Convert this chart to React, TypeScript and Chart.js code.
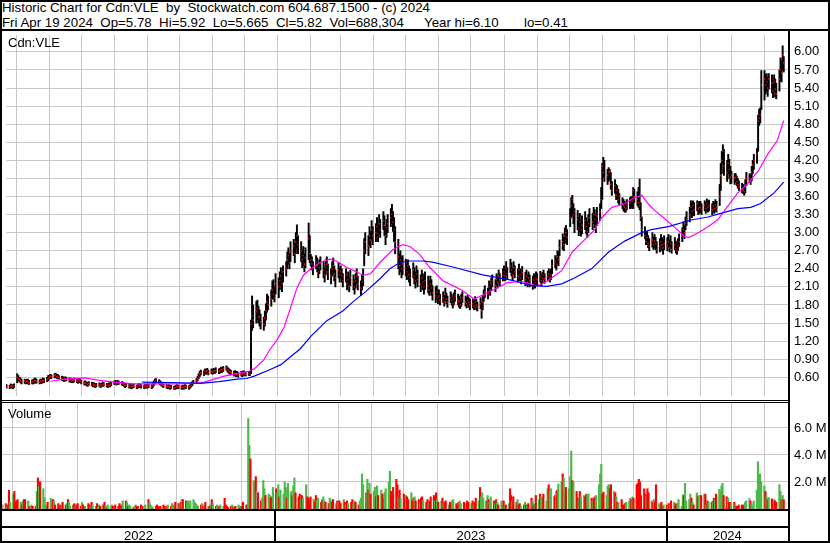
import React, { useEffect, useRef } from 'react';
import { Chart, registerables } from 'chart.js';

Chart.register(...registerables);

const FONT = '"Liberation Sans", Arial, Helvetica, sans-serif';
const GRID = '#c8c8c8';
const GREEN = '#4cb848';
const RED = '#ff0000';
const GRAY = '#a0a0a0';

const DAY = 86400000;
const EPOCH = Date.UTC(2023, 0, 1);
const dayOf = (s: string) => {
  const [y, m, d] = s.split('-').map(Number);
  return (Date.UTC(y, m - 1, d) - EPOCH) / DAY;
};

const title1 = 'Historic Chart for Cdn:VLE  by  Stockwatch.com 604.687.1500 - (c) 2024';
const title2 = 'Fri Apr 19 2024  Op=5.78  Hi=5.92  Lo=5.665  Cl=5.82  Vol=688,304';
const title2b = 'Year hi=6.10';
const title2c = 'lo=0.41';
const symbolLabel = 'Cdn:VLE';
const volumeLabel = 'Volume';

const FIRST_DAY = '2022-04-22';
const X_MIN = -254.5;
const X_MAX = 478;

// daily highs (one per weekday from 2022-04-22 to 2024-04-19), one line per month
const highs = [
  0.48,0.47,0.49,0.48,0.47,0.49,
  0.66,0.63,0.60,0.59,0.57,0.57,0.56,0.57,0.57,0.55,0.56,0.56,0.58,0.59,0.57,0.56,0.57,0.57,0.59,0.58,0.60,0.63,
  0.63,0.65,0.64,0.66,0.67,0.65,0.65,0.63,0.62,0.61,0.59,0.61,0.60,0.59,0.59,0.58,0.58,0.59,0.58,0.57,0.58,0.57,
  0.55,0.54,0.54,0.52,0.51,0.53,0.52,0.51,0.51,0.49,0.50,0.51,0.49,0.50,0.52,0.51,0.50,0.49,0.51,0.50,0.52,
  0.54,0.55,0.53,0.55,0.54,0.53,0.52,0.51,0.49,0.50,0.48,0.49,0.47,0.48,0.49,0.47,0.48,0.50,0.49,0.48,0.47,0.49,0.48,
  0.48,0.49,0.48,0.51,0.54,0.57,0.58,0.56,0.54,0.52,0.50,0.49,0.48,0.47,0.48,0.46,0.47,0.45,0.46,0.47,0.48,0.47,
  0.46,0.47,0.46,0.48,0.47,0.46,0.48,0.51,0.53,0.55,0.58,0.62,0.66,0.70,0.72,0.71,0.74,0.73,0.75,0.72,0.74,
  0.73,0.75,0.74,0.76,0.74,0.75,0.77,0.76,0.78,0.79,0.77,0.75,0.73,0.72,0.70,0.71,0.69,0.70,0.68,0.70,0.69,0.71,
  0.69,0.68,0.70,0.69,1.55,1.95,1.80,1.86,1.88,1.78,1.72,1.65,1.60,1.70,1.82,1.98,1.95,2.05,2.20,2.22,2.10,2.32,
  2.25,2.35,2.42,2.32,2.45,2.52,2.68,2.75,2.65,2.85,2.89,2.82,3.00,3.13,2.95,2.85,2.70,2.77,2.65,2.75,3.16,2.95,
  2.64,2.60,2.52,2.62,2.58,2.48,2.55,2.60,2.52,2.42,2.55,2.60,2.48,2.40,2.52,2.58,2.45,2.38,2.50,2.42,
  2.45,2.40,2.32,2.40,2.28,2.35,2.25,2.38,2.30,2.22,2.32,2.40,2.28,2.20,2.30,2.40,2.90,3.00,2.95,3.10,3.02,3.20,3.10,
  3.15,3.25,3.12,3.30,3.22,3.35,3.28,3.10,3.22,3.30,3.40,3.47,3.35,3.25,3.10,2.89,2.65,2.70,2.60,2.62,
  2.56,2.48,2.55,2.45,2.40,2.50,2.42,2.35,2.45,2.38,2.30,2.38,2.32,2.25,2.35,2.28,2.20,2.28,2.22,2.12,2.10,2.12,2.05,
  2.05,1.98,2.02,1.95,2.08,2.00,1.95,2.02,1.98,1.92,2.00,2.05,1.98,1.95,1.90,1.98,2.02,1.95,1.92,1.96,1.92,1.90,
  1.90,1.88,1.94,1.90,1.85,1.92,1.84,1.96,2.05,2.12,2.08,2.20,2.15,2.25,2.30,2.22,2.32,2.28,2.38,2.32,2.40,
  2.45,2.40,2.52,2.42,2.56,2.50,2.42,2.52,2.45,2.40,2.48,2.40,2.36,2.44,2.34,2.38,2.30,2.35,2.30,2.28,2.32,2.28,2.35,
  2.32,2.36,2.30,2.34,2.38,2.32,2.36,2.40,2.34,2.40,2.55,2.62,2.58,2.70,2.68,2.88,2.98,2.92,3.08,3.12,3.05,
  3.40,3.58,3.62,3.48,3.40,3.37,3.25,3.32,3.20,3.28,3.35,3.25,3.18,3.30,3.40,3.32,3.42,3.38,3.28,3.42,3.48,3.75,
  4.15,4.25,4.20,4.05,4.08,4.05,4.00,3.85,3.88,3.80,3.78,3.72,3.65,3.58,3.55,3.52,3.50,3.55,3.58,3.60,3.58,3.75,
  3.72,3.68,3.75,3.89,3.50,3.26,3.10,3.00,3.02,2.95,2.90,3.00,2.92,2.97,2.92,2.85,2.90,2.97,2.92,2.88,2.95,
  2.92,2.97,2.88,2.95,2.85,2.92,2.86,2.80,2.90,2.98,3.08,3.18,3.12,3.26,3.35,3.42,3.53,3.48,3.53,3.50,3.53,3.50,3.52,
  3.52,3.48,3.53,3.50,3.56,3.52,3.54,3.48,3.52,3.50,3.55,3.52,3.80,4.15,4.35,4.46,4.38,4.20,4.30,4.22,4.10,
  4.02,3.98,3.98,3.94,3.90,3.86,3.82,3.80,3.76,3.88,4.00,3.98,3.95,4.10,4.20,4.30,4.40,4.95,5.05,5.07,5.69,
  5.69,5.62,5.64,5.58,5.64,5.62,5.52,5.62,5.55,5.48,5.70,5.90,5.85,6.10,5.92,
];

const lows = [
  0.42,0.41,0.43,0.42,0.41,0.43,
  0.51,0.55,0.53,0.51,0.49,0.50,0.49,0.50,0.49,0.48,0.49,0.49,0.50,0.51,0.50,0.49,0.50,0.50,0.51,0.51,0.53,0.54,
  0.57,0.58,0.58,0.59,0.60,0.58,0.59,0.57,0.55,0.54,0.53,0.54,0.54,0.52,0.52,0.51,0.51,0.52,0.51,0.50,0.51,0.51,
  0.49,0.47,0.48,0.46,0.45,0.47,0.46,0.44,0.45,0.43,0.44,0.45,0.43,0.44,0.46,0.45,0.44,0.43,0.45,0.44,0.46,
  0.48,0.49,0.47,0.49,0.48,0.47,0.46,0.45,0.43,0.44,0.42,0.43,0.41,0.42,0.43,0.41,0.42,0.44,0.43,0.42,0.41,0.43,0.42,
  0.42,0.43,0.41,0.43,0.46,0.49,0.51,0.49,0.47,0.46,0.44,0.43,0.42,0.41,0.42,0.40,0.41,0.40,0.40,0.41,0.42,0.41,
  0.40,0.41,0.40,0.42,0.41,0.40,0.42,0.44,0.46,0.49,0.51,0.54,0.58,0.61,0.64,0.63,0.66,0.65,0.67,0.64,0.66,
  0.65,0.67,0.66,0.68,0.66,0.67,0.69,0.68,0.70,0.72,0.69,0.67,0.65,0.64,0.62,0.63,0.61,0.62,0.60,0.62,0.61,0.63,
  0.63,0.62,0.63,0.63,0.66,1.38,1.42,1.50,1.55,1.50,1.45,1.40,1.38,1.45,1.55,1.68,1.72,1.78,1.90,1.90,1.85,1.98,
  1.92,2.05,2.12,2.02,2.18,2.28,2.40,2.48,2.40,2.52,2.62,2.50,2.65,2.75,2.65,2.52,2.42,2.45,2.35,2.42,2.55,2.50,
  2.45,2.38,2.30,2.40,2.35,2.25,2.32,2.38,2.25,2.18,2.30,2.36,2.22,2.15,2.28,2.32,2.20,2.10,2.25,2.18,
  2.25,2.18,2.10,2.18,2.05,2.12,2.02,2.12,2.05,1.98,2.08,2.15,2.05,1.96,2.05,2.12,2.45,2.65,2.62,2.78,2.75,2.88,2.80,
  2.85,2.95,2.85,2.98,2.92,3.05,2.95,2.80,2.92,3.00,3.10,3.15,3.02,2.85,2.65,2.40,2.30,2.35,2.25,2.30,
  2.28,2.22,2.30,2.18,2.12,2.25,2.15,2.08,2.18,2.10,2.02,2.12,2.05,1.98,2.06,2.00,1.96,2.02,1.96,1.88,1.84,1.90,1.82,
  1.85,1.80,1.84,1.78,1.88,1.82,1.76,1.84,1.80,1.75,1.80,1.86,1.80,1.76,1.74,1.78,1.84,1.78,1.75,1.80,1.76,1.72,
  1.75,1.72,1.78,1.72,1.70,1.74,1.58,1.72,1.86,1.92,1.90,2.00,1.96,2.05,2.10,2.02,2.12,2.08,2.18,2.12,2.20,
  2.25,2.20,2.30,2.22,2.34,2.28,2.20,2.30,2.25,2.18,2.28,2.20,2.15,2.22,2.12,2.18,2.10,2.15,2.10,2.06,2.12,2.08,2.15,
  2.12,2.18,2.12,2.16,2.22,2.16,2.20,2.24,2.18,2.22,2.32,2.42,2.38,2.48,2.45,2.62,2.72,2.70,2.82,2.88,2.80,
  3.10,3.25,3.28,3.15,3.00,3.05,2.95,3.02,2.94,2.98,3.05,2.98,2.92,3.00,3.10,3.05,3.15,3.08,3.00,3.12,3.20,3.40,
  3.55,3.92,3.85,3.80,3.85,3.88,3.72,3.62,3.65,3.55,3.55,3.49,3.45,3.40,3.36,3.34,3.34,3.38,3.40,3.42,3.40,3.40,
  3.50,3.45,3.42,3.38,3.20,2.94,2.90,2.80,2.82,2.75,2.70,2.76,2.72,2.76,2.72,2.66,2.68,2.76,2.70,2.64,2.72,
  2.70,2.76,2.68,2.74,2.66,2.72,2.66,2.64,2.70,2.77,2.85,2.95,2.90,3.05,3.12,3.18,3.30,3.25,3.32,3.28,3.36,3.30,3.32,
  3.34,3.30,3.36,3.32,3.38,3.34,3.36,3.30,3.34,3.32,3.36,3.34,3.45,3.70,3.98,4.15,3.95,3.85,3.98,3.90,3.81,
  3.82,3.80,3.84,3.78,3.74,3.70,3.66,3.65,3.62,3.66,3.78,3.84,3.80,3.86,3.98,4.05,4.15,4.35,4.78,4.82,5.04,
  5.20,5.30,5.35,5.26,5.38,5.32,5.24,5.34,5.25,5.22,5.35,5.52,5.50,5.69,5.665,
];

const closes = [
  0.45,0.44,0.46,0.45,0.44,0.46,
  0.60,0.58,0.56,0.55,0.53,0.54,0.52,0.54,0.53,0.51,0.53,0.52,0.54,0.55,0.53,0.52,0.54,0.53,0.55,0.54,0.56,0.58,
  0.60,0.62,0.61,0.63,0.64,0.61,0.62,0.60,0.59,0.57,0.56,0.58,0.57,0.55,0.56,0.54,0.55,0.56,0.54,0.53,0.55,0.54,
  0.52,0.50,0.51,0.49,0.48,0.50,0.49,0.47,0.48,0.46,0.47,0.48,0.46,0.47,0.49,0.48,0.47,0.46,0.48,0.47,0.49,
  0.51,0.52,0.50,0.52,0.51,0.50,0.49,0.48,0.46,0.47,0.45,0.46,0.44,0.45,0.46,0.44,0.45,0.47,0.46,0.45,0.44,0.46,0.45,
  0.45,0.46,0.44,0.47,0.50,0.53,0.55,0.52,0.51,0.49,0.47,0.46,0.45,0.44,0.45,0.43,0.44,0.42,0.43,0.44,0.45,0.44,
  0.43,0.44,0.43,0.45,0.44,0.43,0.45,0.47,0.50,0.52,0.55,0.58,0.62,0.66,0.68,0.67,0.70,0.69,0.71,0.68,0.70,
  0.69,0.71,0.70,0.72,0.70,0.71,0.73,0.72,0.74,0.76,0.73,0.71,0.69,0.68,0.66,0.67,0.65,0.66,0.64,0.66,0.65,0.67,
  0.66,0.65,0.67,0.66,1.48,1.62,1.55,1.70,1.75,1.60,1.60,1.52,1.48,1.58,1.70,1.85,1.80,1.90,2.05,1.98,1.92,2.15,
  2.10,2.20,2.28,2.15,2.35,2.40,2.55,2.62,2.50,2.70,2.78,2.65,2.85,2.95,2.80,2.70,2.55,2.62,2.48,2.58,2.90,2.65,
  2.55,2.48,2.40,2.52,2.45,2.35,2.42,2.50,2.38,2.30,2.42,2.48,2.35,2.28,2.40,2.45,2.32,2.25,2.38,2.30,
  2.35,2.28,2.20,2.30,2.15,2.22,2.12,2.25,2.18,2.10,2.20,2.28,2.15,2.08,2.18,2.25,2.70,2.85,2.78,2.95,2.88,3.05,2.95,
  3.00,3.10,2.98,3.15,3.05,3.20,3.12,2.95,3.08,3.15,3.25,3.30,3.18,3.05,2.85,2.60,2.45,2.55,2.40,2.48,
  2.40,2.35,2.45,2.30,2.25,2.38,2.28,2.20,2.32,2.22,2.15,2.25,2.18,2.10,2.20,2.12,2.05,2.15,2.08,2.00,1.95,2.02,1.92,
  1.95,1.88,1.92,1.85,1.98,1.90,1.85,1.92,1.88,1.82,1.90,1.95,1.88,1.85,1.80,1.88,1.92,1.85,1.82,1.88,1.84,1.80,
  1.82,1.78,1.85,1.80,1.76,1.82,1.70,1.85,1.95,2.02,1.98,2.10,2.05,2.15,2.20,2.12,2.22,2.18,2.28,2.22,2.30,
  2.35,2.28,2.40,2.32,2.45,2.38,2.30,2.42,2.35,2.28,2.38,2.30,2.25,2.33,2.22,2.28,2.18,2.25,2.20,2.15,2.22,2.18,2.25,
  2.22,2.28,2.20,2.25,2.30,2.24,2.28,2.32,2.26,2.30,2.45,2.52,2.48,2.60,2.55,2.75,2.85,2.80,2.95,3.00,2.92,
  3.25,3.45,3.55,3.30,3.35,3.22,3.08,3.18,3.05,3.12,3.20,3.10,3.02,3.15,3.25,3.18,3.30,3.22,3.12,3.28,3.35,3.55,
  4.10,4.00,3.90,3.95,4.00,4.02,3.80,3.70,3.78,3.62,3.70,3.55,3.60,3.48,3.45,3.42,3.40,3.45,3.50,3.55,3.52,3.70,
  3.60,3.55,3.50,3.45,3.25,3.05,2.95,2.85,2.92,2.82,2.78,2.88,2.80,2.86,2.82,2.72,2.78,2.85,2.80,2.75,2.82,
  2.78,2.85,2.75,2.82,2.72,2.80,2.74,2.70,2.78,2.85,2.95,3.05,3.00,3.15,3.22,3.30,3.42,3.35,3.45,3.38,3.48,3.40,3.42,
  3.42,3.38,3.45,3.40,3.48,3.42,3.45,3.38,3.44,3.40,3.46,3.42,3.60,3.95,4.20,4.35,4.10,4.00,4.15,4.05,3.92,
  3.95,3.90,3.92,3.85,3.80,3.76,3.72,3.70,3.68,3.78,3.90,3.90,3.85,4.00,4.12,4.20,4.30,4.85,4.90,4.95,5.45,
  5.55,5.45,5.50,5.40,5.55,5.48,5.35,5.50,5.38,5.30,5.55,5.70,5.65,5.95,5.82,
];

// daily volume, millions of shares
const volumes = [
  0.3,0.4,0.2,0.3,1.4,0.5,
  1.1,1.3,0.5,0.6,0.7,0.5,0.3,0.6,0.7,0.7,0.6,0.2,0.1,0.3,0.2,0.2,1.3,2.3,1.7,2.0,1.5,0.85,
  0.3,0.2,0.5,0.8,0.4,0.7,0.6,0.3,0.4,0.2,0.3,0.2,0.5,0.3,0.4,0.7,0.5,0.2,0.3,0.4,0.2,0.3,
  0.4,0.2,0.5,0.3,0.1,0.2,0.4,0.3,0.2,0.5,0.3,0.2,0.4,0.1,0.3,0.2,0.3,0.5,0.2,0.1,0.3,
  0.2,0.3,0.2,0.1,0.3,0.2,0.4,0.2,0.3,0.6,0.6,0.5,0.2,0.3,0.2,0.1,0.2,0.3,0.2,0.2,0.3,0.1,0.2,
  0.2,0.3,0.7,0.5,0.3,0.2,0.1,0.2,0.3,0.2,0.1,0.2,0.3,0.2,0.1,0.2,0.3,0.2,0.4,0.3,0.2,0.5,
  0.4,0.3,0.5,0.7,0.7,0.6,0.5,0.6,0.4,0.6,0.7,0.5,0.4,0.3,0.2,0.3,0.4,0.2,0.3,0.5,0.2,
  0.2,0.3,0.7,0.4,0.2,0.3,0.1,0.2,0.3,0.2,0.8,0.3,0.2,0.1,0.2,0.3,0.1,0.2,0.2,0.3,0.1,0.2,
  0.2,0.5,0.3,0.3,6.7,4.7,3.7,2.1,2.0,2.4,1.3,1.2,0.6,0.8,2.1,1.5,1.0,1.1,1.0,0.8,0.9,1.6,
  1.5,1.2,1.8,0.9,1.4,1.1,2.0,1.6,0.8,1.9,1.3,1.0,1.7,2.3,1.2,0.9,1.1,0.7,1.0,0.8,1.8,0.9,
  0.8,0.6,0.9,0.7,0.5,1.0,0.6,0.8,0.5,0.7,0.9,0.6,0.5,0.4,0.8,0.6,0.5,0.7,0.4,0.6,
  0.5,0.6,0.4,0.7,0.5,0.3,0.6,0.4,0.5,0.7,0.4,0.6,0.5,0.3,0.6,0.8,2.6,1.8,1.2,2.2,1.4,1.9,1.1,
  1.3,1.6,0.9,1.7,1.0,1.4,1.1,0.8,1.2,1.5,2.0,2.8,1.3,1.0,1.6,2.2,1.8,0.9,1.4,0.8,
  1.1,0.8,1.0,0.9,0.7,1.2,0.6,0.8,0.9,0.6,0.7,0.5,0.8,0.9,0.6,0.5,0.7,0.4,0.6,0.9,1.0,0.6,1.2,
  0.7,0.5,0.6,0.8,0.4,0.5,0.6,0.3,0.5,0.4,0.6,0.7,0.4,0.3,0.5,0.6,0.4,0.5,0.3,0.4,0.6,0.5,
  0.4,0.6,0.3,0.5,0.8,0.6,1.6,0.9,1.2,0.8,0.6,1.0,0.7,0.5,0.9,0.6,0.4,0.7,0.5,0.3,0.6,
  0.3,0.6,0.2,0.3,0.4,1.5,1.0,0.6,0.9,0.5,0.7,0.3,0.4,0.2,0.3,0.5,0.3,0.2,0.4,0.8,0.6,0.3,0.4,
  1.0,0.7,1.1,0.9,0.8,1.1,0.6,1.5,1.8,1.3,1.5,0.9,1.0,1.3,1.4,1.85,2.0,2.6,2.3,1.2,1.6,
  1.5,2.4,4.3,2.1,2.0,1.3,0.8,0.7,1.3,0.9,1.0,0.9,1.1,1.1,1.1,0.8,0.6,0.8,0.9,1.0,1.8,2.6,
  3.3,1.1,1.25,1.0,1.7,1.8,1.5,1.8,1.3,1.2,0.9,0.5,0.4,0.7,0.3,0.3,0.4,0.5,0.6,0.8,0.7,0.9,
  0.8,1.8,1.9,2.2,2.0,1.0,1.5,1.1,0.9,1.5,1.2,0.6,0.5,0.7,0.5,1.8,0.4,0.3,0.5,0.2,0.3,
  0.3,0.2,0.4,0.3,0.6,0.5,0.3,0.4,0.3,0.7,0.2,1.05,1.0,1.9,0.6,0.7,1.1,0.8,0.5,0.3,1.2,0.9,1.0,
  0.9,1.0,1.1,1.1,0.3,0.6,0.5,0.5,0.6,0.8,0.7,1.1,1.45,1.3,1.7,1.9,1.0,0.9,0.8,0.5,0.5,
  0.4,0.5,0.3,0.2,0.2,0.3,0.3,0.2,0.3,0.5,0.6,0.8,0.6,0.4,0.2,0.6,1.4,3.5,2.1,2.6,2.0,
  1.7,1.3,0.9,0.7,0.85,0.75,0.55,0.7,0.6,0.5,1.8,1.3,0.7,1.0,0.69,
];

// moving averages
const magentaDates = [
  '2022-06-02','2022-06-16','2022-07-04','2022-07-18','2022-08-01','2022-08-20','2022-09-08','2022-09-26',
  '2022-10-15','2022-10-24','2022-11-12','2022-11-26','2022-12-05','2022-12-10','2022-12-19','2022-12-25',
  '2022-12-31','2023-01-07','2023-01-13','2023-01-19','2023-01-25','2023-02-01','2023-02-10','2023-02-19',
  '2023-02-25','2023-03-06','2023-03-16','2023-03-22','2023-03-29','2023-04-07','2023-04-19','2023-04-28',
  '2023-05-05','2023-05-14','2023-05-23','2023-06-05','2023-06-23','2023-07-04','2023-07-21','2023-08-04',
  '2023-08-18','2023-09-01','2023-09-10','2023-09-24','2023-10-04','2023-10-13','2023-10-25','2023-10-31',
  '2023-11-10','2023-11-22','2023-12-01','2023-12-08','2023-12-14','2023-12-20','2023-12-29','2024-01-07',
  '2024-01-17','2024-01-21','2024-01-30','2024-02-08','2024-02-17','2024-02-27','2024-03-07','2024-03-16',
  '2024-03-26','2024-04-04','2024-04-13','2024-04-19',
];
const magentaValues = [
  0.535,0.57,0.59,0.55,0.52,0.49,0.49,0.49,
  0.50,0.52,0.62,0.67,0.70,0.74,0.89,1.07,
  1.21,1.43,1.75,2.08,2.29,2.40,2.51,2.56,
  2.53,2.43,2.35,2.29,2.32,2.51,2.72,2.80,
  2.77,2.64,2.43,2.20,2.04,1.90,2.04,2.17,
  2.19,2.12,2.19,2.37,2.68,2.84,3.05,3.24,
  3.42,3.48,3.58,3.62,3.48,3.37,3.24,3.10,
  2.94,2.92,3.00,3.10,3.21,3.45,3.66,3.81,
  4.02,4.30,4.53,4.86,
];

const blueDates = [
  '2022-08-27','2022-10-05','2022-10-21','2022-11-07','2022-11-24','2022-12-03','2022-12-10','2022-12-25',
  '2023-01-04','2023-01-13','2023-01-22','2023-02-01','2023-02-16','2023-03-03','2023-03-13','2023-03-25',
  '2023-04-07','2023-04-16','2023-04-26','2023-05-05','2023-05-17','2023-05-26','2023-06-14','2023-07-12',
  '2023-08-09','2023-08-27','2023-09-10','2023-09-24','2023-10-05','2023-10-22','2023-11-07','2023-11-22',
  '2023-12-08','2023-12-17','2024-01-02','2024-01-23','2024-02-08','2024-02-20','2024-03-07','2024-03-19',
  '2024-03-28','2024-04-10','2024-04-19',
];
const blueValues = [
  0.52,0.51,0.50,0.53,0.57,0.58,0.62,0.73,
  0.81,0.94,1.07,1.28,1.54,1.70,1.86,2.03,
  2.24,2.40,2.51,2.53,2.53,2.51,2.43,2.30,
  2.21,2.12,2.11,2.15,2.24,2.40,2.68,2.86,
  3.00,3.05,3.10,3.21,3.26,3.32,3.40,3.42,
  3.48,3.66,3.84,
];

const priceTicks = [0.6,0.9,1.2,1.5,1.8,2.1,2.4,2.7,3.0,3.3,3.6,3.9,4.2,4.5,4.8,5.1,5.4,5.7,6.0];
const volumeTicks = [2, 4, 6];
const yearLabels = ['2022', '2023', '2024'];
const yearStarts = ['2023-01-01', '2024-01-01'];

function weekdayOffsets(n: number): number[] {
  const out: number[] = [];
  let t = EPOCH + dayOf(FIRST_DAY) * DAY;
  while (out.length < n) {
    const wd = new Date(t).getUTCDay();
    if (wd !== 0 && wd !== 6) out.push((t - EPOCH) / DAY);
    t += DAY;
  }
  return out;
}

function monthTicks(): number[] {
  const out: number[] = [];
  let y = 2022, m = 4;
  while (y < 2024 || (y === 2024 && m <= 3)) {
    out.push((Date.UTC(y, m, 1) - EPOCH) / DAY);
    m++;
    if (m === 12) { m = 0; y++; }
  }
  return out;
}

function xScaleOpts() {
  const ticks = monthTicks();
  return {
    type: 'linear',
    min: X_MIN,
    max: X_MAX,
    offset: false,
    grid: { color: GRID, lineWidth: 1, drawTicks: false, offset: false },
    border: { display: false },
    ticks: { display: false },
    afterBuildTicks: (s: any) => { s.ticks = ticks.map((v) => ({ value: v })); },
    afterFit: (s: any) => { s.height = 0; s.paddingLeft = 0; s.paddingRight = 0; s.paddingTop = 0; s.paddingBottom = 0; },
  };
}

function yFit(s: any) {
  s.width = 40;
  s.paddingTop = 0;
  s.paddingBottom = 0;
  s.paddingLeft = 0;
  s.paddingRight = 0;
}

export default function App() {
  const priceRef = useRef<HTMLCanvasElement>(null);
  const volRef = useRef<HTMLCanvasElement>(null);

  useEffect(() => {
    const n = Math.min(highs.length, lows.length, closes.length, volumes.length);
    const xs = weekdayOffsets(n);
    const barData = xs.map((x, i) => ({ x, y: [lows[i], highs[i]] }));
    const closeData = xs.map((x, i) => ({ x, y: closes[i] }));
    const volData = xs.map((x, i) => ({ x, y: volumes[i] }));
    const volColors = xs.map((_, i) =>
      i === 0 ? GRAY : closes[i] > closes[i - 1] ? GREEN : closes[i] < closes[i - 1] ? RED : GRAY
    );
    const magData = magentaDates.map((d, i) => ({ x: dayOf(d), y: magentaValues[i] }));
    const blueData = blueDates.map((d, i) => ({ x: dayOf(d), y: blueValues[i] }));

    const tickFont = { family: FONT, size: 13 };

    const price = new Chart(priceRef.current!, {
      type: 'bar',
      data: {
        datasets: [
          { type: 'line', data: blueData, borderColor: '#0000ff', borderWidth: 1.2, pointRadius: 0, tension: 0, order: 1 } as any,
          { type: 'line', data: magData, borderColor: '#ff00ff', borderWidth: 1.2, pointRadius: 0, tension: 0, order: 2 } as any,
          { type: 'scatter', data: closeData, pointStyle: 'rect', pointRadius: 1.0, backgroundColor: RED, borderWidth: 0, order: 3 } as any,
          { type: 'bar', data: barData, backgroundColor: '#000000', barThickness: 1.3, borderWidth: 0, grouped: false, order: 4 } as any,
        ],
      },
      options: {
        animation: false,
        responsive: false,
        maintainAspectRatio: false,
        devicePixelRatio: 1,
        events: [],
        layout: { padding: 0 },
        plugins: { legend: { display: false }, tooltip: { enabled: false }, title: { display: false } },
        scales: {
          x: xScaleOpts() as any,
          y: {
            position: 'right',
            min: 0.29,
            max: 6.28,
            grid: { color: GRID, lineWidth: 1, drawTicks: false },
            border: { display: false },
            ticks: { padding: 6, color: '#000', font: tickFont, callback: (v: any) => Number(v).toFixed(2) },
            afterBuildTicks: (s: any) => { s.ticks = priceTicks.map((v) => ({ value: v })); },
            afterFit: yFit,
          } as any,
        },
      },
    });

    const bottomRows = {
      id: 'bottomRows',
      afterDraw(chart: any) {
        const ctx = chart.ctx;
        const area = chart.chartArea;
        const xsc = chart.scales.x;
        ctx.save();
        ctx.fillStyle = '#000';
        ctx.fillRect(0, area.bottom, area.right, 2);
        ctx.fillRect(0, area.bottom + 17, area.right, 2);
        const seps = yearStarts.map((d) => xsc.getPixelForValue(dayOf(d)));
        seps.forEach((p) => ctx.fillRect(Math.round(p) - 1, area.bottom, 2, 32));
        const bounds = [area.left, ...seps, area.right];
        ctx.font = '13px ' + FONT;
        ctx.textAlign = 'center';
        ctx.textBaseline = 'alphabetic';
        yearLabels.forEach((lab, i) => {
          ctx.fillText(lab, (bounds[i] + bounds[i + 1]) / 2, area.bottom + 31);
        });
        ctx.restore();
      },
    };

    const vol = new Chart(volRef.current!, {
      type: 'bar',
      data: {
        datasets: [
          { type: 'bar', data: volData, backgroundColor: volColors, barThickness: 1.5, borderWidth: 0, grouped: false } as any,
        ],
      },
      options: {
        animation: false,
        responsive: false,
        maintainAspectRatio: false,
        devicePixelRatio: 1,
        events: [],
        layout: { padding: { left: 0, right: 0, top: 0, bottom: 34 } },
        plugins: { legend: { display: false }, tooltip: { enabled: false } },
        scales: {
          x: xScaleOpts() as any,
          y: {
            position: 'right',
            min: 0,
            max: 7.85,
            grid: { color: GRID, lineWidth: 1, drawTicks: false },
            border: { display: false },
            ticks: { padding: 6, color: '#000', font: tickFont, callback: (v: any) => Number(v).toFixed(1) + ' M' },
            afterBuildTicks: (s: any) => { s.ticks = volumeTicks.map((v) => ({ value: v })); },
            afterFit: yFit,
          } as any,
        },
      },
      plugins: [bottomRows],
    });

    return () => {
      price.destroy();
      vol.destroy();
    };
  }, []);

  const line = (l: number, t: number, w: number, h: number): React.CSSProperties => ({
    position: 'absolute', left: l, top: t, width: w, height: h, background: '#000',
  });
  const text = (l: number, t: number, size = 13): React.CSSProperties => ({
    position: 'absolute', left: l, top: t, fontFamily: FONT, fontSize: size, lineHeight: '13px',
    whiteSpace: 'pre', color: '#000',
  });

  return (
    <div style={{ position: 'absolute', left: 0, top: 0, width: 830, height: 543, background: '#fff', overflow: 'hidden' }}>
      <canvas ref={priceRef} width={826} height={369} style={{ position: 'absolute', left: 2, top: 31, width: 826, height: 369 }} />
      <canvas ref={volRef} width={826} height={140} style={{ position: 'absolute', left: 2, top: 403, width: 826, height: 140 }} />
      <div style={text(2, 1.3, 13.3)}>{title1}</div>
      <div style={text(2, 15.7, 13.3)}>{title2}</div>
      <div style={text(424, 15.7, 13.3)}>{title2b}</div>
      <div style={text(524, 15.7, 13.3)}>{title2c}</div>
      <div style={text(8, 35.7)}>{symbolLabel}</div>
      <div style={text(8, 406.7)}>{volumeLabel}</div>
      <div style={line(0, 0, 830, 2)} />
      <div style={line(0, 29, 830, 2)} />
      <div style={line(0, 0, 2, 543)} />
      <div style={line(828, 0, 2, 543)} />
      <div style={line(0, 541, 830, 2)} />
      <div style={line(788, 29, 2, 514)} />
      <div style={line(0, 400, 788, 1)} />
      <div style={line(0, 402, 788, 1)} />
    </div>
  );
}
